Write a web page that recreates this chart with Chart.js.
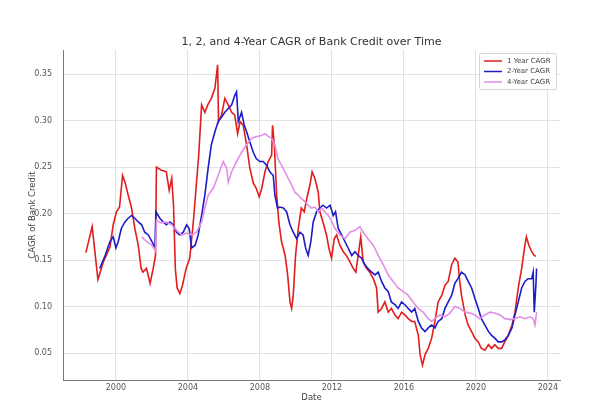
<!DOCTYPE html>
<html>
<head>
<meta charset="utf-8">
<script src="https://cdn.jsdelivr.net/npm/chart.js@4.4.0/dist/chart.umd.min.js"></script>
<style>
  html, body { margin: 0; padding: 0; background: #fff; }
</style>
</head>
<body>
<canvas id="cagrChart" width="605" height="409"></canvas>
<script>
// 1년 CAGR
const yr1Dates = [1998.33, 1998.68, 1999.0, 1999.3, 1999.67, 1999.85, 2000.03, 2000.2, 2000.37, 2000.5, 2000.68, 2000.87,
  2001.05, 2001.24, 2001.4, 2001.5, 2001.7, 2001.9, 2002.07, 2002.2, 2002.25, 2002.5, 2002.8, 2002.96, 2003.1, 2003.2,
  2003.3, 2003.4, 2003.55, 2003.7, 2003.9, 2004.1, 2004.3, 2004.48, 2004.6, 2004.76, 2004.94, 2005.1, 2005.3, 2005.5,
  2005.65, 2005.7, 2005.87, 2006.05, 2006.24, 2006.43, 2006.6, 2006.76, 2006.9, 2007.07, 2007.26, 2007.44, 2007.63,
  2007.8, 2007.96, 2008.1, 2008.28, 2008.46, 2008.65, 2008.7, 2008.8, 2008.93, 2009.05, 2009.2, 2009.4, 2009.54,
  2009.67, 2009.76, 2009.85, 2009.98, 2010.13, 2010.3, 2010.46, 2010.6, 2010.78, 2010.9, 2011.05, 2011.24, 2011.33,
  2011.5, 2011.7, 2011.83, 2011.98, 2012.13, 2012.26, 2012.44, 2012.63, 2012.8, 2013.0, 2013.18, 2013.33, 2013.46,
  2013.6, 2013.74, 2013.93, 2014.1, 2014.3, 2014.48, 2014.57, 2014.76, 2014.94, 2015.13, 2015.3, 2015.5, 2015.68,
  2015.87, 2016.05, 2016.24, 2016.43, 2016.6, 2016.8, 2016.9, 2017.03, 2017.17, 2017.35, 2017.54, 2017.72, 2017.9,
  2018.1, 2018.28, 2018.46, 2018.65, 2018.83, 2019.0, 2019.1, 2019.2, 2019.4, 2019.57, 2019.76, 2019.94, 2020.13,
  2020.3, 2020.5, 2020.7, 2020.87, 2021.05, 2021.24, 2021.43, 2021.6, 2021.8, 2022.0, 2022.17, 2022.35, 2022.54,
  2022.72, 2022.8, 2022.94, 2023.1, 2023.24, 2023.33];
const yr1Values = [0.158, 0.186, 0.129, 0.148, 0.164, 0.188, 0.202, 0.207, 0.241, 0.234, 0.220, 0.206,
  0.184, 0.166, 0.141, 0.137, 0.141, 0.125, 0.141, 0.155, 0.250, 0.247, 0.245, 0.225, 0.238, 0.209,
  0.141, 0.120, 0.114, 0.123, 0.141, 0.152, 0.191, 0.234, 0.263, 0.317, 0.309, 0.317, 0.324, 0.335,
  0.360, 0.299, 0.306, 0.324, 0.317, 0.309, 0.306, 0.286, 0.299, 0.295, 0.274, 0.249, 0.233,
  0.227, 0.218, 0.227, 0.245, 0.256, 0.263, 0.295, 0.274, 0.220, 0.191, 0.170, 0.155, 0.134,
  0.105, 0.098, 0.112, 0.155, 0.184, 0.206, 0.202, 0.216, 0.231, 0.245, 0.238, 0.223, 0.202,
  0.191, 0.177, 0.163, 0.152, 0.173, 0.177, 0.166, 0.159, 0.155, 0.148, 0.141, 0.137, 0.155,
  0.175, 0.148, 0.141, 0.137, 0.130, 0.120, 0.094, 0.098, 0.105, 0.094, 0.098, 0.091, 0.087,
  0.094, 0.091, 0.087, 0.084, 0.084, 0.069, 0.048, 0.037, 0.048, 0.055, 0.066, 0.084, 0.105,
  0.112, 0.123, 0.127, 0.145, 0.152, 0.148, 0.127, 0.112, 0.091, 0.080, 0.073, 0.066, 0.062,
  0.055, 0.053, 0.059, 0.055, 0.059, 0.055, 0.055, 0.062, 0.069, 0.080, 0.094, 0.120, 0.141,
  0.166, 0.175, 0.166, 0.159, 0.155, 0.154];

// 2년 CAGR
const yr2Dates = [1999.1, 1999.4, 1999.67, 1999.85, 2000.0, 2000.13, 2000.3, 2000.5, 2000.68, 2000.87, 2001.05, 2001.24,
  2001.43, 2001.6, 2001.8, 2002.0, 2002.17, 2002.22, 2002.44, 2002.63, 2002.8, 2003.0, 2003.18, 2003.37, 2003.55,
  2003.74, 2003.93, 2004.07, 2004.2, 2004.4, 2004.57, 2004.76, 2004.94, 2005.13, 2005.3, 2005.5, 2005.68, 2005.87,
  2006.05, 2006.24, 2006.43, 2006.6, 2006.7, 2006.8, 2006.98, 2007.13, 2007.26, 2007.44, 2007.63, 2007.8, 2008.0,
  2008.18, 2008.37, 2008.55, 2008.74, 2008.83, 2008.98, 2009.1, 2009.3, 2009.48, 2009.67, 2009.85, 2010.04, 2010.22,
  2010.4, 2010.54, 2010.68, 2010.83, 2010.96, 2011.15, 2011.33, 2011.5, 2011.7, 2011.9, 2012.07, 2012.2, 2012.35,
  2012.54, 2012.72, 2012.9, 2013.1, 2013.28, 2013.46, 2013.65, 2013.83, 2014.0, 2014.2, 2014.4, 2014.57, 2014.76,
  2014.94, 2015.13, 2015.3, 2015.5, 2015.68, 2015.87, 2016.05, 2016.24, 2016.43, 2016.6, 2016.8, 2016.98, 2017.17,
  2017.35, 2017.54, 2017.72, 2017.9, 2018.1, 2018.28, 2018.46, 2018.65, 2018.83, 2019.0, 2019.2, 2019.4, 2019.57,
  2019.76, 2019.94, 2020.13, 2020.3, 2020.5, 2020.7, 2020.87, 2021.05, 2021.24, 2021.43, 2021.6, 2021.8, 2022.0,
  2022.17, 2022.35, 2022.54, 2022.72, 2022.9, 2023.1, 2023.18, 2023.24, 2023.33, 2023.37];
const yr2Values = [0.141, 0.155, 0.170, 0.175, 0.163, 0.170, 0.184, 0.191, 0.195, 0.198, 0.195, 0.191,
  0.188, 0.180, 0.177, 0.170, 0.163, 0.202, 0.195, 0.191, 0.188, 0.191, 0.188, 0.180, 0.177,
  0.180, 0.188, 0.184, 0.163, 0.166, 0.177, 0.198, 0.220, 0.250, 0.274, 0.288, 0.299, 0.304,
  0.309, 0.313, 0.317, 0.327, 0.331, 0.299, 0.309, 0.295, 0.288, 0.277, 0.266, 0.259, 0.256,
  0.256, 0.252, 0.245, 0.241, 0.220, 0.206, 0.207, 0.206, 0.202, 0.188, 0.180, 0.173, 0.180,
  0.177, 0.163, 0.155, 0.170, 0.191, 0.202, 0.206, 0.209, 0.206, 0.209, 0.198, 0.202, 0.184,
  0.177, 0.170, 0.163, 0.155, 0.159, 0.155, 0.152, 0.145, 0.141, 0.137, 0.134, 0.137, 0.127,
  0.120, 0.116, 0.105, 0.102, 0.098, 0.105, 0.102, 0.098, 0.094, 0.098, 0.084, 0.077, 0.073,
  0.077, 0.080, 0.077, 0.084, 0.087, 0.098, 0.105, 0.112, 0.125, 0.130, 0.137, 0.134, 0.127,
  0.120, 0.109, 0.098, 0.087, 0.080, 0.073, 0.069, 0.066, 0.062, 0.062, 0.064, 0.069, 0.077,
  0.091, 0.105, 0.120, 0.127, 0.130, 0.130, 0.137, 0.094, 0.123, 0.141];

// 4년 CAGR
const yr4Dates = [2001.43, 2001.7, 2002.0, 2002.2, 2002.25, 2002.5, 2002.8, 2003.1, 2003.37, 2003.65, 2003.93, 2004.2,
  2004.48, 2004.76, 2004.94, 2005.13, 2005.4, 2005.68, 2005.96, 2006.15, 2006.24, 2006.43, 2006.7, 2006.98, 2007.26,
  2007.54, 2007.8, 2008.1, 2008.28, 2008.46, 2008.65, 2008.83, 2009.0, 2009.2, 2009.4, 2009.57, 2009.76, 2009.94,
  2010.13, 2010.3, 2010.5, 2010.68, 2010.87, 2011.05, 2011.24, 2011.43, 2011.6, 2011.8, 2011.95, 2012.17, 2012.44,
  2012.72, 2013.0, 2013.28, 2013.55, 2013.74, 2014.0, 2014.3, 2014.57, 2014.85, 2015.13, 2015.4, 2015.68, 2015.96,
  2016.24, 2016.5, 2016.8, 2017.07, 2017.35, 2017.54, 2017.72, 2018.0, 2018.28, 2018.55, 2018.83, 2019.1, 2019.4,
  2019.67, 2019.94, 2020.2, 2020.5, 2020.78, 2021.05, 2021.33, 2021.6, 2021.9, 2022.17, 2022.44, 2022.72, 2023.0,
  2023.18, 2023.28, 2023.37];
const yr4Values = [0.175, 0.170, 0.166, 0.160, 0.193, 0.190, 0.191, 0.188, 0.182, 0.177, 0.179, 0.177,
  0.180, 0.191, 0.206, 0.220, 0.227, 0.241, 0.256, 0.249, 0.234, 0.245, 0.256, 0.266, 0.274,
  0.281, 0.283, 0.284, 0.286, 0.283, 0.281, 0.274, 0.259, 0.252, 0.245, 0.238, 0.231, 0.223,
  0.220, 0.216, 0.213, 0.209, 0.206, 0.207, 0.202, 0.206, 0.202, 0.198, 0.193, 0.184, 0.177,
  0.173, 0.180, 0.182, 0.186, 0.180, 0.173, 0.166, 0.155, 0.145, 0.134, 0.127, 0.120, 0.116,
  0.112, 0.105, 0.098, 0.094, 0.087, 0.084, 0.087, 0.091, 0.089, 0.093, 0.100, 0.098, 0.094,
  0.093, 0.091, 0.087, 0.091, 0.094, 0.093, 0.091, 0.087, 0.086, 0.087, 0.089, 0.087, 0.089,
  0.087, 0.080, 0.094];

// 축 눈금
const xTicks = [2000, 2004, 2008, 2012, 2016, 2020, 2024];
const yTicks = [0.05, 0.10, 0.15, 0.20, 0.25, 0.30, 0.35];

const seriesNames = ['1 Year CAGR', '2-Year CAGR', '4-Year CAGR'];
const seriesColors = ['#e11d1d', '#1c1cc8', '#e28ee6'];

const FONT = 'DejaVu Sans';

function toPoints(dates, values) {
  return dates.map((d, i) => ({ x: d, y: values[i] }));
}

// 차트 제목 (플롯 영역 중앙)
const titlePlugin = {
  id: 'plotTitle',
  afterDraw(chart) {
    const { ctx, chartArea } = chart;
    ctx.save();
    ctx.font = '11px "' + FONT + '"';
    ctx.fillStyle = '#333';
    ctx.textAlign = 'center';
    ctx.textBaseline = 'middle';
    ctx.fillText('1, 2, and 4-Year CAGR of Bank Credit over Time', (chartArea.left + chartArea.right) / 2, 42);
    ctx.restore();
  }
};

// 범례 박스 (오른쪽 위)
const legendBoxPlugin = {
  id: 'legendBox',
  afterDraw(chart) {
    const ctx = chart.ctx;
    const bx = 479, by = 53, bw = 77, bh = 36;
    ctx.save();
    ctx.fillStyle = 'rgba(255,255,255,0.9)';
    ctx.strokeStyle = '#d4d4d4';
    ctx.lineWidth = 1;
    ctx.beginPath();
    ctx.roundRect(bx + 0.5, by + 0.5, bw, bh, 2);
    ctx.fill();
    ctx.stroke();
    ctx.font = '7px "' + FONT + '"';
    ctx.textBaseline = 'middle';
    chart.data.datasets.forEach((ds, i) => {
      const y = by + 8 + i * 10.5;
      ctx.strokeStyle = ds.borderColor;
      ctx.lineWidth = 1.5;
      ctx.beginPath();
      ctx.moveTo(bx + 5, y);
      ctx.lineTo(bx + 23, y);
      ctx.stroke();
      ctx.fillStyle = '#444';
      ctx.fillText(ds.label, bx + 28, y);
    });
    ctx.restore();
  }
};

const ctx = document.getElementById('cagrChart').getContext('2d');
new Chart(ctx, {
  type: 'line',
  data: {
    datasets: [
      { label: seriesNames[0], data: toPoints(yr1Dates, yr1Values), borderColor: seriesColors[0], order: 3 },
      { label: seriesNames[1], data: toPoints(yr2Dates, yr2Values), borderColor: seriesColors[1], order: 2 },
      { label: seriesNames[2], data: toPoints(yr4Dates, yr4Values), borderColor: seriesColors[2], order: 1 }
    ]
  },
  options: {
    responsive: false,
    animation: false,
    layout: { padding: { top: 50, right: 45, left: 0, bottom: 0 } },
    elements: {
      line: { borderWidth: 1.6, tension: 0, fill: false },
      point: { radius: 0, hoverRadius: 0 }
    },
    plugins: {
      legend: { display: false },
      title: { display: false },
      tooltip: { enabled: false }
    },
    scales: {
      x: {
        type: 'linear',
        min: 1997.06,
        max: 2024.67,
        afterBuildTicks: s => { s.ticks = xTicks.map(v => ({ value: v })); },
        afterFit: s => { s.height = 29; },
        ticks: {
          callback: v => String(v),
          font: { family: FONT, size: 8 },
          color: '#555',
          padding: 3,
          maxRotation: 0,
          autoSkip: false
        },
        grid: { color: '#e2e2e2', drawTicks: false },
        border: { color: '#777', width: 1 },
        title: {
          display: true,
          text: 'Date',
          font: { family: FONT, size: 8.5 },
          color: '#444',
          padding: { top: 0, bottom: 6 }
        }
      },
      y: {
        min: 0.021,
        max: 0.376,
        afterBuildTicks: s => { s.ticks = yTicks.map(v => ({ value: v })); },
        afterFit: s => { s.width = 63; },
        ticks: {
          callback: v => v.toFixed(2),
          font: { family: FONT, size: 8 },
          color: '#555',
          padding: 11
        },
        grid: { color: '#e2e2e2', drawTicks: false },
        border: { color: '#777', width: 1 },
        title: {
          display: true,
          text: 'CAGR of Bank Credit',
          font: { family: FONT, size: 8.5 },
          color: '#444',
          padding: { top: 28, bottom: 0 }
        }
      }
    }
  },
  plugins: [titlePlugin, legendBoxPlugin]
});
</script>
</body>
</html>
